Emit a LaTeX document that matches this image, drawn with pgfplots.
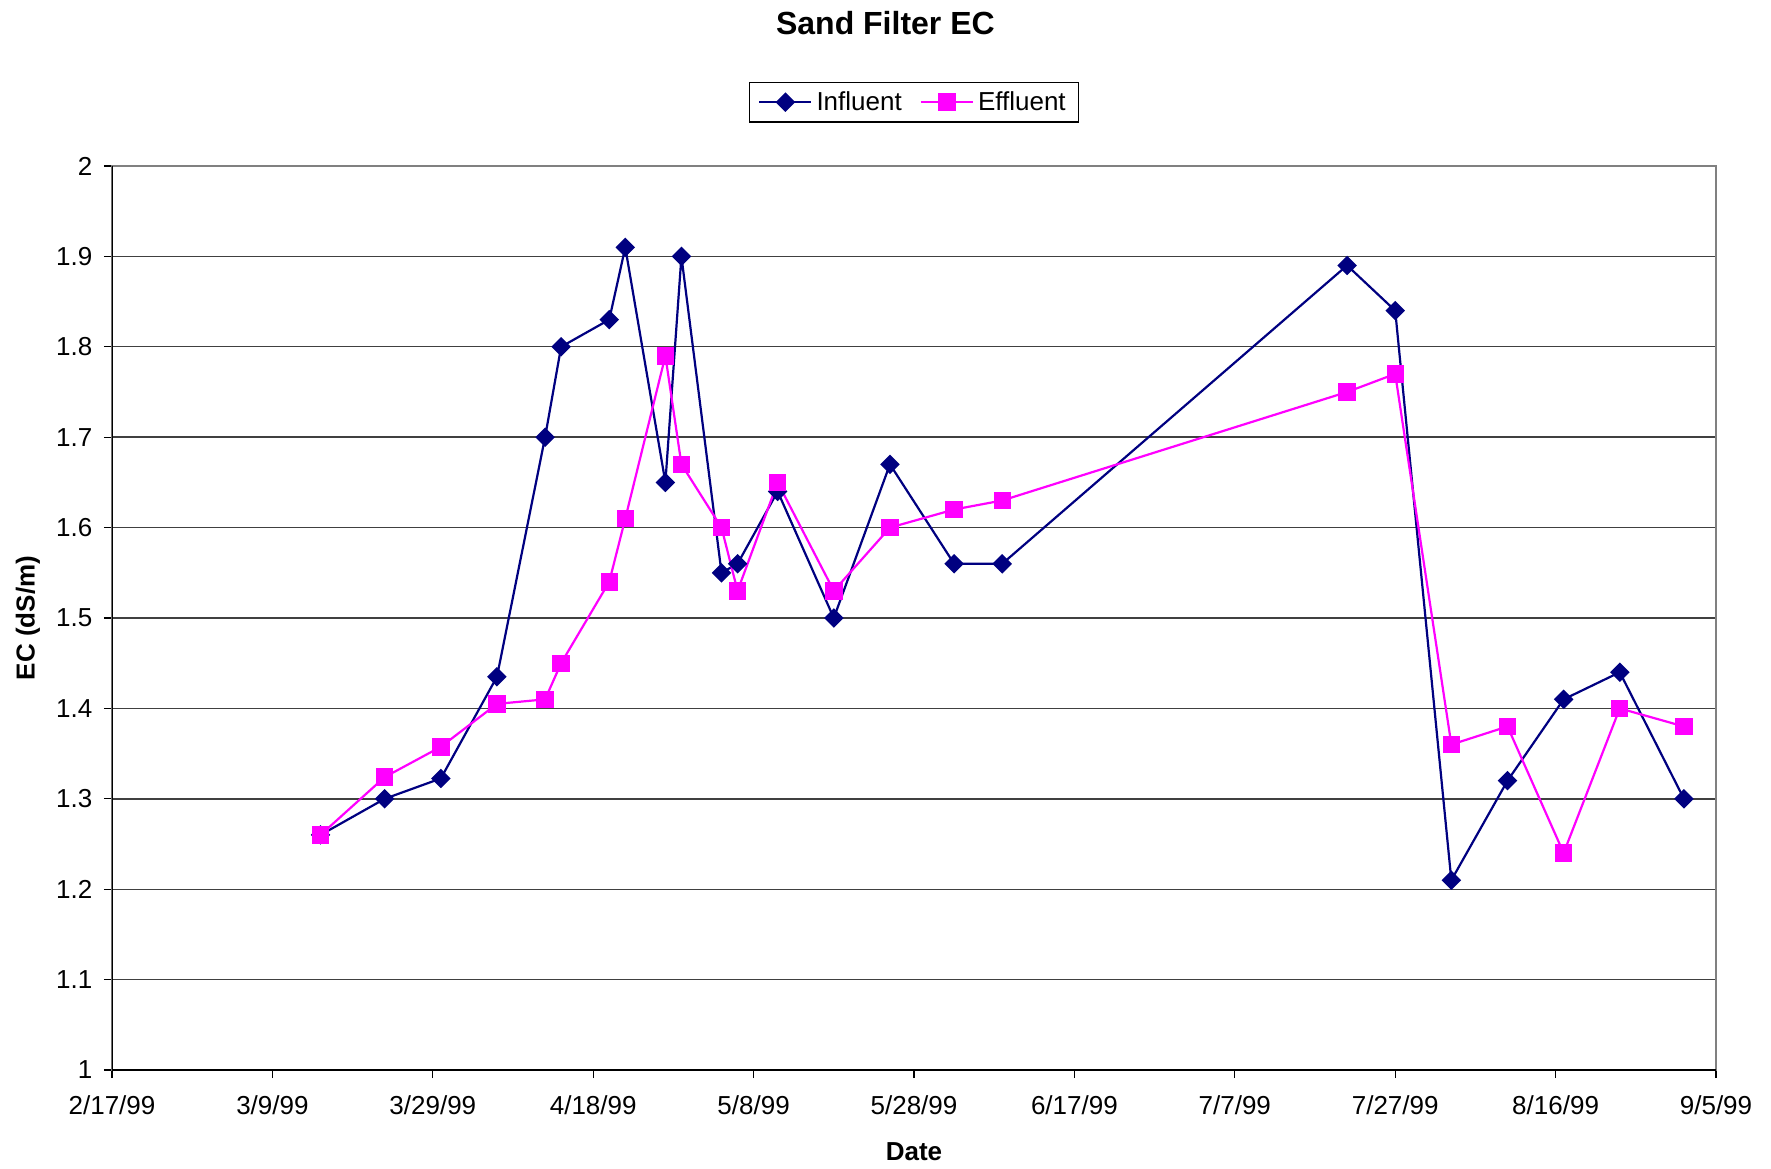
\documentclass[border=0pt]{standalone}
\usepackage{pgfplots}
\pgfplotsset{compat=1.18}
\usepackage{fontspec}
\setmainfont{Liberation Sans}
\definecolor{navyc}{RGB}{0,0,128}
\definecolor{magc}{RGB}{255,0,255}
\begin{document}
\begin{tikzpicture}
\begin{axis}[
  name=ax,
  scale only axis,
  width=802pt, height=452pt,
  xmin=0, xmax=200, ymin=1, ymax=2,
  xtick={0,20,...,200},
  xticklabels={2/17/99,3/9/99,3/29/99,4/18/99,5/8/99,5/28/99,6/17/99,7/7/99,7/27/99,8/16/99,9/5/99},
  ytick={1,1.1,...,2.01},
  yticklabels={1,1.1,1.2,1.3,1.4,1.5,1.6,1.7,1.8,1.9,2},
  tick align=outside,
  major tick length=4pt,
  tick style={black, line width=0.6pt},
  xtick pos=bottom, ytick pos=left,
  ymajorgrids,
  major grid style={black!75, line width=0.7pt},
  axis line style={gray, line width=1pt},
  tick label style={font=\fontsize{13}{15}\selectfont},
  xticklabel style={yshift=-5.5pt},
  yticklabel style={xshift=-2.3pt},
  xlabel={\textbf{Date}},
  ylabel={\textbf{EC (dS/m)}},
  label style={font=\fontsize{13}{15}\selectfont},
  xlabel style={at={(axis description cs:0.5,-0.0907)}, anchor=center},
  ylabel style={at={(axis description cs:-0.0524,0.5)}, anchor=center},
  title={\textbf{Sand Filter EC}},
  every axis title shift=0pt,
  title style={font=\fontsize{16}{19}\selectfont, at={(axis description cs:0.4822,1.1586)}, anchor=center},
  legend columns=2,
  legend style={at={(0.5,1.0706)}, anchor=center, draw=black, line width=0.6pt,
    font=\fontsize{13}{15}\selectfont, inner xsep=4.5pt, inner ysep=2.5pt,
    /tikz/every even column/.append style={column sep=7pt}},
  legend image code/.code={\draw[#1, line width=1.1pt] (0pt,0pt) -- (13pt,0pt) plot coordinates {(13pt,0pt)} -- (26pt,0pt);},
]
\addplot[navyc, line width=1.1pt, mark=square*, mark size=2.9pt, mark options={rotate=45, solid, fill=navyc, draw=navyc}] coordinates {
(26,1.26) (34,1.30) (41,1.3225) (48,1.435) (54,1.70) (56,1.80) (62,1.83) (64,1.91)
(69,1.65) (71,1.90) (76,1.55) (78,1.56) (83,1.64) (90,1.50) (97,1.67) (105,1.56)
(111,1.56) (154,1.89) (160,1.84) (167,1.21) (174,1.32) (181,1.41) (188,1.44) (196,1.30)
};
\addlegendentry{Influent}
\addplot[magc, line width=1.1pt, mark=square*, mark size=3.8pt, mark options={solid, fill=magc, draw=magc}] coordinates {
(26,1.26) (34,1.324) (41,1.3575) (48,1.405) (54,1.41) (56,1.45) (62,1.54) (64,1.61)
(69,1.79) (71,1.67) (76,1.60) (78,1.53) (83,1.65) (90,1.53) (97,1.60) (105,1.62)
(111,1.63) (154,1.75) (160,1.77) (167,1.36) (174,1.38) (181,1.24) (188,1.40) (196,1.38)
};
\addlegendentry{Effluent}
\draw[black, line width=1pt] (rel axis cs:0,1) -- (rel axis cs:0,0) -- (rel axis cs:1,0);
\end{axis}
\pgfresetboundingbox
\path ([xshift=-56pt,yshift=-49pt]ax.south west) rectangle ([xshift=27.5pt,yshift=83pt]ax.north east);
\end{tikzpicture}
\end{document}
